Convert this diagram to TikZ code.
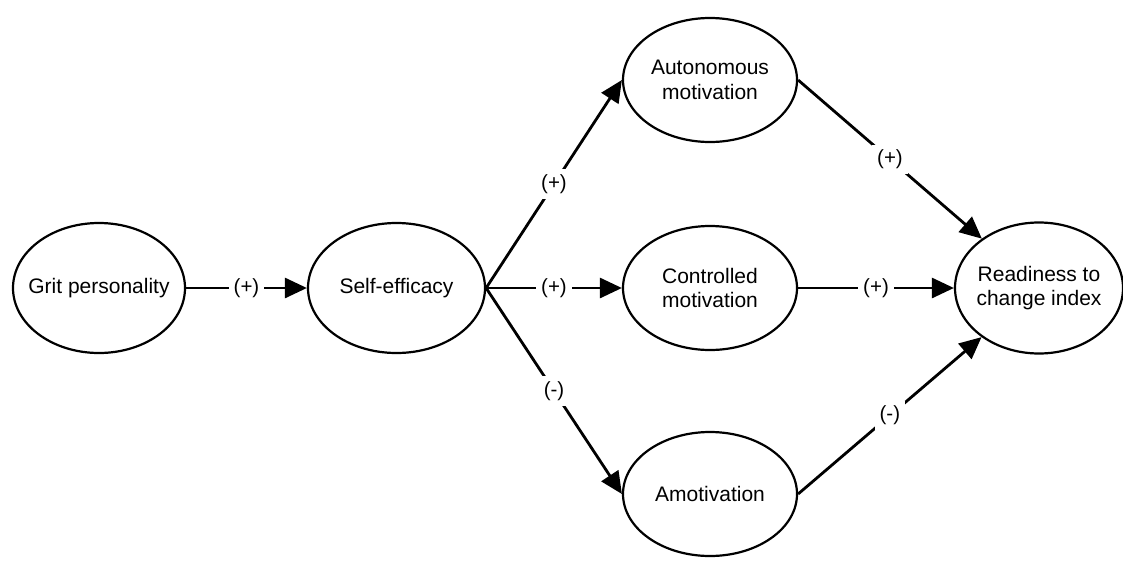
\documentclass[tikz,border=0pt]{standalone}
\usepackage{fontspec}
\setmainfont{Liberation Sans}
\usetikzlibrary{shapes.geometric,arrows.meta}
\begin{document}
\begin{tikzpicture}[x=1pt,y=-1pt,
  var/.style={ellipse,draw,line width=2.2pt,inner xsep=-25pt,inner ysep=-25pt,align=center,
    font=\fontsize{21}{24.5}\selectfont},
  link/.style={line width=2.8pt,-{Triangle[length=22pt,width=20pt]}},
  sign/.style={fill=white,inner sep=5pt,font=\fontsize{20.5}{24}\selectfont}]
\useasboundingbox (0,0) rectangle (1123,562);
\node[var,minimum width=172pt,minimum height=130pt] (grit) at (99,288) {Grit personality};
\node[var,minimum width=177pt,minimum height=130pt] (self) at (396.5,288) {Self-efficacy};
\node[var,minimum width=174pt,minimum height=124pt] (auto) at (710,80) {Autonomous\\motivation};
\node[var,minimum width=174pt,minimum height=124pt] (ctrl) at (710,288) {Controlled\\motivation};
\node[var,minimum width=174pt,minimum height=124pt] (amot) at (710,494) {Amotivation};
\node[var,minimum width=168pt,minimum height=131pt] (ready) at (1039,288) {Readiness to\\change index};
\draw[link] (grit) -- node[sign] {(+)} (self);
\draw[link] (self.east) -- node[sign] {(+)} (auto.west);
\draw[link] (self.east) -- node[sign] {(+)} (ctrl.west);
\draw[link] (self.east) -- node[sign] {(-)} (amot.west);
\draw[link] (auto.east) -- node[sign] {(+)} (ready);
\draw[link] (ctrl.east) -- node[sign] {(+)} (ready.west);
\draw[link] (amot.east) -- node[sign] {(-)} (ready);
\end{tikzpicture}
\end{document}
